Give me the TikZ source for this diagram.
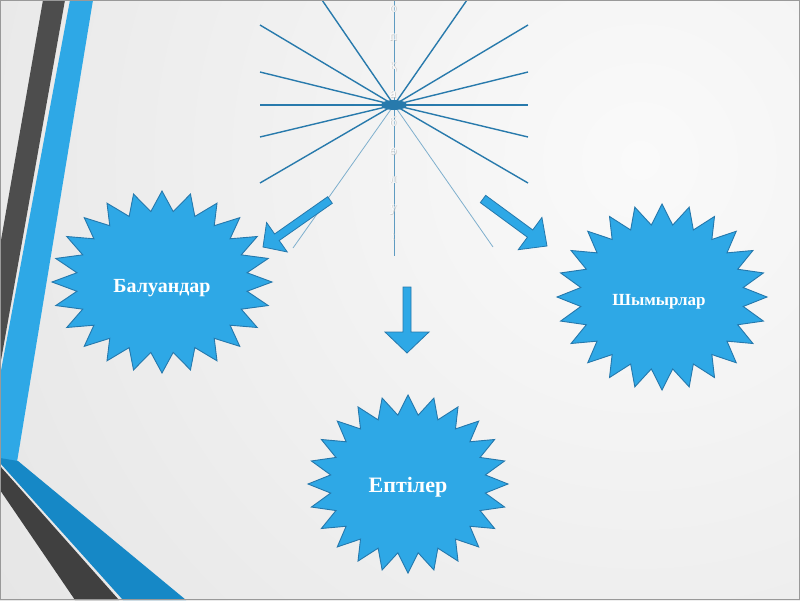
\documentclass[tikz,border=0pt]{standalone}
\usepackage{fontspec}
\setmainfont{Liberation Serif}
\usetikzlibrary{calc}
\definecolor{sblue}{RGB}{46,168,230}
\definecolor{sline}{RGB}{37,120,172}
\definecolor{bandblue}{RGB}{22,136,198}
\definecolor{dgray}{RGB}{77,77,77}
\definecolor{bgray}{RGB}{64,64,64}
\definecolor{raycol}{RGB}{40,122,172}
\definecolor{bgin}{RGB}{250,250,250}
\definecolor{bgout}{RGB}{214,214,214}
\tikzset{
 starfill/.style={fill=sblue, draw=sline, line width=0.9pt, line join=miter},
 blockarrow/.style={fill=sblue, draw=sline, line width=0.8pt, line join=miter},
 ray/.style={draw=raycol, line width=1.4pt},
 faintray/.style={draw=raycol!60, line width=0.8pt},
 startext/.style={text=white, inner sep=0pt},
 vletter/.style={text=white, anchor=base, font=\fontsize{14}{16}\selectfont, inner sep=0pt},
 vshadow/.style={text=gray!45, anchor=base, font=\fontsize{14}{16}\selectfont, inner sep=0pt},
}
\newcommand\starburst[4]{%
  \filldraw[starfill] plot[samples at={0,...,47}, variable=\k]
   ({#1+(1-0.22*mod(\k,2))*#3*cos(\k*7.5)}, {#2+(1-0.22*mod(\k,2))*#4*sin(\k*7.5)}) -- cycle;}
\newcommand\blockarr[5]{%
  \coordinate (bs) at (#1); \coordinate (bt) at (#2);
  \coordinate (bb) at ($(bt)!#5!(bs)$);
  \filldraw[blockarrow] ($(bs)!#3!90:(bt)$) -- ($(bb)!#3!90:(bt)$) -- ($(bb)!#4!90:(bt)$) -- (bt)
   -- ($(bb)!#4!-90:(bt)$) -- ($(bb)!#3!-90:(bt)$) -- ($(bs)!#3!-90:(bt)$) -- cycle;}
\begin{document}
\begin{tikzpicture}[x=1pt, y=-1pt]
\useasboundingbox (0,0) rectangle (800,600);
% background
\fill[bgout] (0,0) rectangle (800,600);
\begin{scope}
  \clip (0,0) rectangle (800,600);
  \shade[inner color=bgin, outer color=bgout] (640,160) circle (1400);
\end{scope}
% left stripes
\fill[dgray] (43,0) -- (65,0) -- (0,366) -- (0,246) -- cycle;
\fill[sblue] (70,0) -- (93,0) -- (17,462) -- (0,459) -- (0,376) -- cycle;
\fill[bandblue] (0,458) -- (18,461) -- (186,600) -- (123,600) -- (0,463) -- cycle;
\fill[bgray] (0,466) -- (119,600) -- (75,600) -- (0,490) -- cycle;
% starburst of rays
\coordinate (sun) at (394,105);
\foreach \p in {(260,25),(260,72),(260,105),(260,137),(260,183),(322,0),
                (528,25),(528,72),(528,105),(528,137),(528,183),(467,0)}
  \draw[ray] (sun) -- \p;
\coordinate (rl) at (293,248);
\coordinate (rr) at (493,247);
\draw[faintray] (sun) -- (rl);
\draw[faintray] (sun) -- (rr);
\coordinate (vt) at (394,0);
\coordinate (vb) at (394,256);
\draw[draw=raycol!75, line width=1pt] (vt) -- (vb);
\fill[raycol] (sun) ellipse (13 and 5);
% vertical letters
\foreach \ch [count=\i] in {о,п,қ,а,б,ө,л,у,:}{
  \node[vshadow] (s\i) at (393.8,{12.8+28.5*(\i-1)}) {\ch};
  \node[vletter] (v\i) at (393,{12+28.5*(\i-1)}) {\ch};}
% stars
\starburst{162}{282}{110}{91}
\starburst{662}{297}{105}{93}
\starburst{408}{484}{100}{89}
\node[startext, font=\fontsize{20}{24}\selectfont\bfseries] (bal) at (162,288) {Балуандар};
\node[startext, font=\fontsize{17}{20}\selectfont\bfseries] (shym) at (659,302) {Шымырлар};
\node[startext, font=\fontsize{22}{26}\selectfont\bfseries] (ept) at (408,487) {Ептілер};
% arrows
\blockarr{330,200}{263,247}{4pt}{18pt}{17pt}
\blockarr{483,199}{547,246}{4.5pt}{20pt}{21pt}
\blockarr{407,287}{407,353}{4pt}{22pt}{21pt}
% frame
\draw[gray!80, line width=1pt] (0.5,0.5) rectangle (799.5,599.5);
\end{tikzpicture}
\end{document}
